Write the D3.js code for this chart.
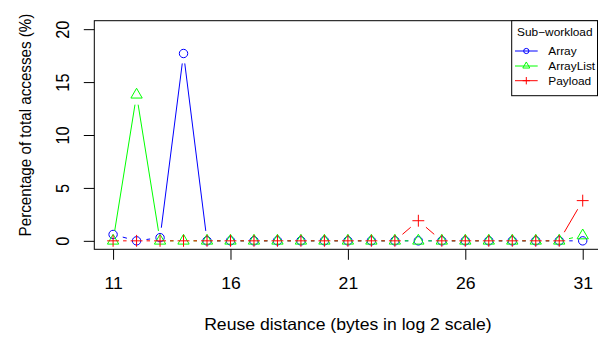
<!DOCTYPE html>
<html>
<head>
<meta charset="utf-8">
<script src="https://cdn.jsdelivr.net/npm/d3@7"></script>
<style>
body { margin: 0; background: #fff; }
text { font-family: "Liberation Sans", Arial, sans-serif; fill: #000; }
</style>
</head>
<body>
<script>
// reuse distance buckets (x) and percentage per sub-workload
var reuse        = [11, 12, 13, 14, 15, 16, 17, 18, 19, 20, 21, 22, 23, 24, 25, 26, 27, 28, 29, 30, 31];
var arrayPct     = [0.6, 0, 0.3, 17.7, 0, 0, 0, 0, 0, 0, 0, 0, 0, 0, 0, 0, 0, 0, 0, 0, 0];
var arrayListPct = [0, 13.8, 0, 0, 0, 0, 0, 0, 0, 0, 0, 0, 0, 0, 0, 0, 0, 0, 0, 0, 0.5];
var payloadPct   = [0, 0, 0, 0, 0, 0, 0, 0, 0, 0, 0, 0, 0, 1.9, 0, 0, 0, 0, 0, 0, 3.8];
var xTicks = [11, 16, 21, 26, 31];
var yTicks = [0, 5, 10, 15, 20];
var seriesNames = ["Array", "ArrayList", "Payload"];
var legendTitle = "Sub\u2212workload";

var W = 598, H = 337;
var sx = 1.08;      // picture is a bit wider than tall
var fs = 16.3;
var r0 = 4.2;       // base symbol radius
var gap = 10;       // gap round points (type = "b")

var svg = d3.select("body").append("svg")
    .attr("width", W)
    .attr("height", H);

// set the ranges (R style: 4% padding)
var x = d3.scaleLinear().domain([10.2, 31.8]).range([94.3, 601.5]);
var y = d3.scaleLinear().domain([-0.8, 20.8]).range([249.3, 20.7]);

var series = [
  {name: seriesNames[0], vals: arrayPct,     color: "#0000ff", pch: "circle"},
  {name: seriesNames[1], vals: arrayListPct, color: "#00ff00", pch: "triangle"},
  {name: seriesNames[2], vals: payloadPct,   color: "#ff0000", pch: "plus"}
];

function symbolPath(pch, r) {
  if (pch == "triangle") return d3.symbol().type(d3.symbolTriangle).size(1.299 * Math.pow(1.555 * r, 2))();
  var a = 1.414 * r;
  return "M" + (-a) + ",0H" + a + "M0," + (-a) + "V" + a;
}

function drawSymbol(g, pch, cx, cy, r, color) {
  if (pch == "circle") {
    g.append("circle").attr("cx", cx).attr("cy", cy).attr("r", r)
      .attr("fill", "none").attr("stroke", color).attr("stroke-width", 1);
  } else {
    g.append("path").attr("d", symbolPath(pch, r))
      .attr("transform", "translate(" + cx + "," + cy + ")")
      .attr("fill", "none").attr("stroke", color).attr("stroke-width", 1);
  }
}

var plot = svg.append("g");

series.forEach(function(s) {
  var pts = reuse.map(function(d, i) { return [x(d), y(s.vals[i])]; });
  var segs = [];
  for (var i = 0; i < pts.length - 1; i++) {
    var p1 = pts[i], p2 = pts[i + 1];
    var dx = p2[0] - p1[0], dy = p2[1] - p1[1];
    var d = Math.sqrt(dx * dx + dy * dy);
    if (d > 2 * gap) {
      var ux = dx / d, uy = dy / d;
      segs.push([p1[0] + ux * gap, p1[1] + uy * gap, p2[0] - ux * gap, p2[1] - uy * gap]);
    }
  }
  plot.append("g").selectAll("line")
      .data(segs)
    .enter().append("line")
      .attr("x1", function(d) { return d[0]; })
      .attr("y1", function(d) { return d[1]; })
      .attr("x2", function(d) { return d[2]; })
      .attr("y2", function(d) { return d[3]; })
      .attr("stroke", s.color)
      .attr("stroke-width", 1);
  var gp = plot.append("g");
  pts.forEach(function(p) { drawSymbol(gp, s.pch, p[0], p[1], r0, s.color); });
});

// box
svg.append("rect")
    .attr("x", 94.3).attr("y", 20.7)
    .attr("width", 601.5 - 94.3).attr("height", 249.3 - 20.7)
    .attr("fill", "none").attr("stroke", "#000").attr("stroke-width", 1);

// x axis
var gX = svg.append("g").attr("transform", "translate(0,249.3)")
    .call(d3.axisBottom(x).tickValues(xTicks).tickSizeOuter(0).tickSize(10.5).tickFormat(d3.format("d")));
gX.select(".domain").remove();
gX.selectAll(".tick line").attr("stroke", "#000");
gX.selectAll(".tick text")
    .attr("y", 0).attr("dy", null)
    .attr("transform", "translate(0,40) scale(" + sx + ",1)")
    .style("font-size", fs + "px")
    .attr("font-family", null);

// y axis
var gY = svg.append("g").attr("transform", "translate(94.3,0)")
    .call(d3.axisLeft(y).tickValues(yTicks).tickSizeOuter(0).tickSize(10.5));
gY.select(".domain").remove();
gY.selectAll(".tick line").attr("stroke", "#000");
gY.selectAll(".tick text")
    .attr("x", 0).attr("dy", null)
    .attr("text-anchor", "middle")
    .attr("transform", "translate(-25.4,0) rotate(-90) scale(1," + sx + ")")
    .style("font-size", fs + "px")
    .attr("font-family", null);

// axis titles
svg.append("text")
    .attr("transform", "translate(347.9,330.3) scale(" + sx + ",1)")
    .attr("text-anchor", "middle")
    .style("font-size", fs + "px")
    .text("Reuse distance (bytes in log 2 scale)");

svg.append("text")
    .attr("transform", "translate(31,125) rotate(-90) scale(1,1.13)")
    .attr("text-anchor", "middle")
    .style("font-size", "15.2px")
    .text("Percentage of total accesses (%)");

// legend
var leg = svg.append("g");
leg.append("rect")
    .attr("x", 511.7).attr("y", 20.7).attr("width", 85.8).attr("height", 75)
    .attr("fill", "#fff").attr("stroke", "#000").attr("stroke-width", 1);
leg.append("text")
    .attr("transform", "translate(554.8,36.2) scale(" + sx + ",1)")
    .attr("text-anchor", "middle")
    .style("font-size", "11px")
    .text(legendTitle);
var legY = [51, 66, 80.7];
series.forEach(function(s, i) {
  leg.append("line")
      .attr("x1", 515).attr("x2", 537.7)
      .attr("y1", legY[i]).attr("y2", legY[i])
      .attr("stroke", s.color).attr("stroke-width", 1);
  drawSymbol(leg, s.pch, 526.3, legY[i], 2.6, s.color);
  leg.append("text")
      .attr("transform", "translate(548.3," + (legY[i] + 4) + ") scale(" + sx + ",1)")
      .style("font-size", "11px")
      .text(s.name);
});
</script>
</body>
</html>
